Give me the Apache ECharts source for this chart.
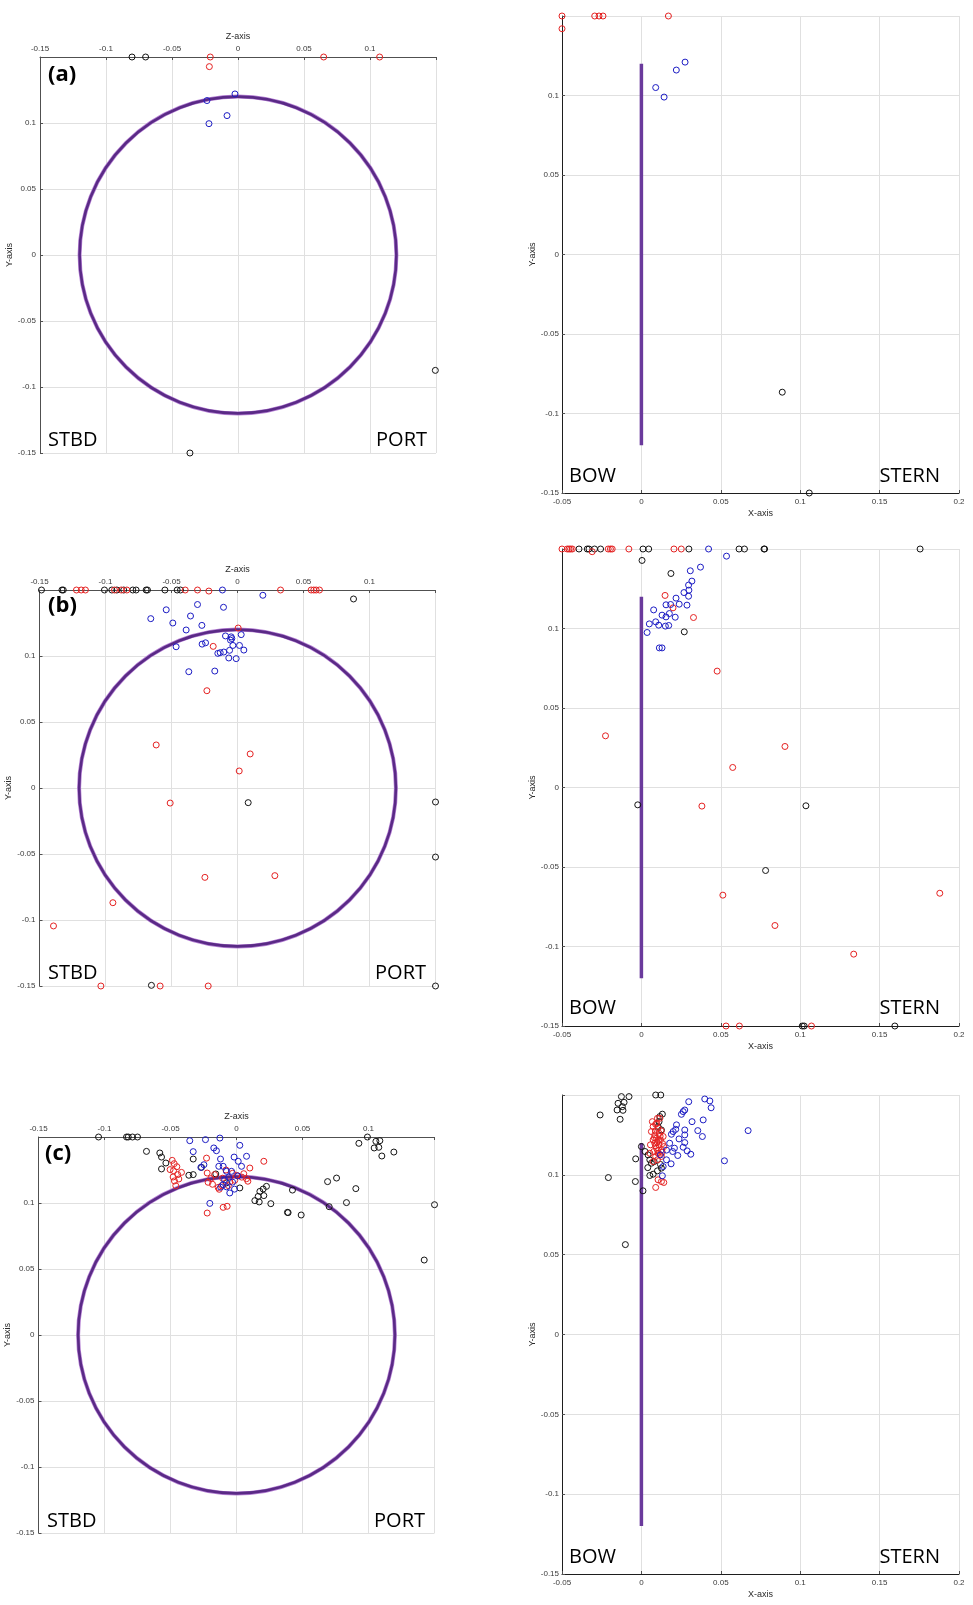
<!DOCTYPE html>
<html><head><meta charset="utf-8">
<script src="https://cdn.jsdelivr.net/npm/echarts@6.0.0/dist/echarts.min.js"></script>
<style>html,body{margin:0;padding:0;background:#fff}#c{width:973px;height:1605px}</style>
</head><body><div id="c"></div>
<script>
// ---------- tick labels ----------
const zTickLabels = [-0.15, -0.1, -0.05, 0, 0.05, 0.1];
const yTickLabels = [-0.15, -0.1, -0.05, 0, 0.05, 0.1];
const xTickLabels = [-0.05, 0, 0.05, 0.1, 0.15, 0.2];

// ---------- reference geometry ----------
const hullCircle = [[0, 0, 0.12]];          // [z, y, radius]
const hullSide = [[0, -0.12], [0, 0.12]];   // [x, y]

// ---------- panel (a) ----------
const aZYBlack = [[-0.0803,0.15],[-0.070,0.15],[-0.0364,-0.15],[0.1495,-0.0874]];
const aZYRed = [[-0.021,0.15],[-0.0217,0.1427],[0.0649,0.15],[0.1073,0.15]];
const aZYBlue = [[-0.0023,0.122],[-0.0235,0.117],[-0.0083,0.1056],[-0.022,0.0995]];

const aXYBlack = [[0.0887,-0.0866],[0.1057,-0.15]];
const aXYRed = [[-0.05,0.15],[-0.05,0.142],[-0.0294,0.15],[-0.0267,0.15],[-0.0242,0.15],[0.017,0.15]];
const aXYBlue = [[0.0275,0.121],[0.022,0.116],[0.009,0.105],[0.0143,0.099]];

// ---------- panel (b) ----------
const bZYBlack = [[-0.1485,0.15],[-0.133,0.15],[-0.132,0.15],[-0.1008,0.15],[-0.0952,0.15],[-0.0914,0.15],
  [-0.0862,0.15],[-0.0793,0.15],[-0.0768,0.15],[-0.0692,0.15],[-0.0682,0.15],[-0.055,0.15],[-0.0457,0.15],
  [-0.0432,0.15],[0.0879,0.1432],[0.0081,-0.0111],[0.15,-0.0106],[0.15,-0.0523],[-0.0652,-0.1495],[0.15,-0.15]];
const bZYRed = [[-0.122,0.15],[-0.1184,0.15],[-0.1152,0.15],[-0.0932,0.15],[-0.0881,0.15],[-0.0838,0.15],
  [-0.0396,0.15],[-0.0303,0.15],[0.0326,0.15],[0.0558,0.15],[0.0578,0.15],[0.0596,0.15],[0.0621,0.15],
  [-0.0217,0.1492],[0.0005,0.1212],[-0.0184,0.1073],[-0.0232,0.0737],[-0.0616,0.0326],[0.0096,0.0258],
  [0.0013,0.0129],[-0.051,-0.0114],[-0.0247,-0.0677],[0.0283,-0.0664],[-0.0944,-0.0869],[-0.1394,-0.1045],
  [-0.1035,-0.15],[-0.0586,-0.15],[-0.0222,-0.15]];
const bZYBlue = [[-0.0114,0.15],[0.0192,0.146],[-0.0303,0.139],[-0.0106,0.1369],[-0.054,0.135],[-0.0356,0.1303],
  [-0.0657,0.1283],[-0.049,0.125],[-0.027,0.1232],[-0.0389,0.1197],[0.0028,0.1162],[-0.0091,0.1152],
  [-0.0048,0.1145],[-0.0043,0.1132],[-0.0053,0.112],[-0.0268,0.109],[-0.0242,0.110],[-0.0465,0.107],
  [-0.0035,0.108],[0.0015,0.108],[-0.006,0.1043],[0.0048,0.1045],[-0.0104,0.103],[-0.0149,0.102],
  [-0.0131,0.1025],[-0.0066,0.0985],[-0.001,0.098],[-0.0369,0.0881],[-0.0172,0.0886]];

const bXYBlack = [[-0.0393,0.15],[-0.0341,0.15],[-0.033,0.15],[-0.0295,0.15],[-0.0257,0.15],[0.001,0.15],
  [0.0046,0.15],[0.0299,0.15],[0.0615,0.15],[0.0649,0.15],[0.0772,0.15],[0.0776,0.15],[0.1755,0.15],
  [0.0004,0.1428],[0.0186,0.1346],[0.027,0.0979],[-0.0023,-0.0109],[0.1036,-0.0115],[0.0782,-0.0522],
  [0.1013,-0.15],[0.1025,-0.15],[0.1596,-0.15]];
const bXYRed = [[-0.05,0.15],[-0.0467,0.15],[-0.0456,0.15],[-0.0446,0.15],[-0.0435,0.15],[-0.031,0.1483],
  [-0.0209,0.15],[-0.0195,0.15],[-0.0184,0.15],[-0.0079,0.15],[0.0205,0.15],[0.0251,0.15],
  [0.0149,0.1208],[0.0199,0.113],[0.0328,0.1069],[0.0477,0.0732],[-0.0226,0.0325],[0.0904,0.0258],
  [0.0575,0.0126],[0.0381,-0.0117],[0.0513,-0.0677],[0.1879,-0.0665],[0.0841,-0.0868],[0.1337,-0.1048],
  [0.0533,-0.15],[0.0617,-0.15],[0.1071,-0.15]];
const bXYBlue = [[0.0423,0.15],[0.0536,0.1455],[0.0372,0.1386],[0.0308,0.1363],[0.0318,0.1298],[0.0297,0.1273],
  [0.0299,0.1241],[0.0268,0.1226],[0.0297,0.1203],[0.0218,0.1191],[0.0238,0.1153],[0.0155,0.1149],
  [0.0184,0.1151],[0.0287,0.1147],[0.0077,0.1117],[0.0176,0.1094],[0.013,0.1084],[0.0155,0.1073],
  [0.0213,0.1071],[0.009,0.1042],[0.005,0.1029],[0.0109,0.1021],[0.0172,0.1019],[0.0151,0.1015],
  [0.0036,0.0975],[0.0113,0.0878],[0.013,0.0878]];

// ---------- panel (c) ----------
const cZYBlack = [[-0.1045,0.15],[-0.0833,0.15],[-0.082,0.15],[-0.0788,0.15],[-0.075,0.15],
  [-0.0682,0.1391],[-0.0581,0.1379],[-0.0568,0.1348],[-0.0535,0.1303],[-0.0568,0.1258],
  [-0.0361,0.121],[-0.0328,0.1215],[-0.0328,0.1333],[-0.0265,0.127],[-0.0157,0.122],[-0.0076,0.1152],
  [0.0025,0.1114],[0.0227,0.1126],[0.0202,0.1106],[0.0177,0.1088],[0.0164,0.105],[0.0207,0.1056],
  [0.0139,0.1018],[0.0172,0.1008],[0.026,0.0995],[0.0386,0.0929],
  [0.0992,0.15],[0.0927,0.1452],[0.1056,0.1467],[0.1086,0.1472],[0.1043,0.1417],[0.1078,0.1422],
  [0.1101,0.1356],[0.1192,0.1386],[0.0758,0.1189],[0.069,0.1162],[0.0424,0.1098],[0.0904,0.1109],
  [0.0833,0.1003],[0.0702,0.0972],[0.0391,0.0927],[0.049,0.0909],[0.15,0.0987],[0.1422,0.0568]];
const cZYRed = [[-0.0487,0.1323],[-0.0472,0.1298],[-0.0503,0.1253],[-0.0477,0.1245],[-0.0417,0.1232],
  [-0.048,0.1197],[-0.0437,0.1182],[-0.047,0.1167],[-0.046,0.1131],[-0.0227,0.134],[-0.0222,0.1227],
  [-0.0166,0.1215],[-0.0215,0.1157],[-0.0182,0.1142],[-0.0139,0.1118],[-0.0113,0.1131],[-0.0131,0.1104],
  [-0.005,0.116],[-0.0013,0.1172],[0.0002,0.1209],[0.004,0.1196],[0.0076,0.1184],[0.0101,0.1265],
  [0.0207,0.1316],[-0.0222,0.0924],[-0.0101,0.0967],[-0.0071,0.0975],[0.0086,0.1165],[-0.003,0.1225],
  [-0.008,0.125],[-0.0445,0.1215],[-0.0452,0.1275],[-0.0105,0.1188],[-0.0062,0.1132],[0.0055,0.1222],
  [-0.0195,0.1185]];
const cZYBlue = [[-0.0354,0.1472],[-0.0235,0.148],[-0.0126,0.1492],[0.0025,0.1437],[-0.0172,0.1417],
  [-0.0152,0.1396],[-0.0328,0.1389],[-0.0121,0.1333],[-0.0018,0.1348],[0.0013,0.1316],[0.0076,0.1354],
  [0.0038,0.1278],[-0.0134,0.1278],[-0.0101,0.1278],[-0.0076,0.124],[-0.0038,0.124],[-0.0101,0.1139],
  [-0.0202,0.0997],[-0.0051,0.1076],[-0.027,0.127],[-0.0247,0.129],[-0.006,0.1195],[-0.009,0.1175],
  [-0.012,0.112],[-0.003,0.1158],[0.001,0.1205],[-0.0015,0.1105],[-0.0075,0.1122]];

const cXYBlack = [[0.009,0.15],[0.0122,0.15],[-0.0126,0.149],[-0.0078,0.149],[-0.0147,0.1448],[-0.0109,0.1454],
  [-0.012,0.1427],[-0.0153,0.1406],[-0.0116,0.1404],[-0.026,0.1375],[-0.0134,0.1348],[-0.0208,0.0983],
  [-0.0101,0.0563],[-0.0036,0.11],[-0.0038,0.0958],[0.001,0.09],[0,0.1177],[0.0023,0.1146],[0.0042,0.1125],
  [0.0053,0.1094],[0.0063,0.1073],[0.0053,0.0996],[0.0074,0.1004],[0.0101,0.1025],[0.0126,0.1042],
  [0.0116,0.1365],[0.0132,0.138],[0.0111,0.1333],[0.0105,0.1302],[0.0126,0.1281],[0.008,0.1083],
  [0.004,0.1045],[0.012,0.1065]];
const cXYRed = [[0.0074,0.1302],[0.009,0.1317],[0.0105,0.1292],[0.0063,0.1271],[0.0084,0.125],[0.0111,0.126],
  [0.0095,0.1229],[0.0074,0.1219],[0.012,0.1219],[0.0084,0.1198],[0.0111,0.1188],[0.0095,0.1167],
  [0.0078,0.1146],[0.0126,0.1156],[0.0105,0.1135],[0.009,0.1115],[0.0126,0.1115],[0.0101,0.1094],
  [0.0074,0.1083],[0.0116,0.1354],[0.0101,0.1354],[0.0069,0.1333],[0.0137,0.124],[0.0141,0.1177],
  [0.0057,0.1188],[0.009,0.0921],[0.0126,0.0958],[0.0141,0.0952],[0.0105,0.0969],[0.0053,0.1135],
  [0.0098,0.1205],[0.0118,0.1242],[0.0088,0.1275],[0.0133,0.1196],[0.0102,0.1152],[0.0115,0.1128],
  [0.0082,0.1232],[0.0125,0.1275],[0.0096,0.1322],[0.0108,0.1215],[0.0089,0.1182],[0.0131,0.1142]];
const cXYBlue = [[0.0298,0.1458],[0.0399,0.1475],[0.0431,0.1463],[0.0439,0.142],[0.0273,0.1406],[0.0263,0.1396],
  [0.0252,0.1379],[0.0319,0.1333],[0.0389,0.1344],[0.0355,0.1277],[0.0384,0.124],[0.0273,0.1281],
  [0.0273,0.125],[0.0221,0.1313],[0.0216,0.1285],[0.02,0.1271],[0.0189,0.1254],[0.0237,0.1225],
  [0.0273,0.1202],[0.0263,0.1173],[0.0288,0.115],[0.0311,0.1129],[0.0208,0.1167],[0.0197,0.1146],
  [0.0229,0.1121],[0.0187,0.1069],[0.0672,0.1277],[0.0523,0.1088],[0.0137,0.1052],[0.0132,0.0994],
  [0.0158,0.1094],[0.012,0.1125],[0.0178,0.1198],[0.0158,0.1155]];

// ---------- layout / styles ----------
const COL = {black:'#141414', red:'#e52222', blue:'#1c1cc4', hull:'#5a2a86', side:'#6a3a9c'};
const grids = [
  {left:40, top:57, width:396, height:396},
  {left:562, top:16, width:397, height:477},
  {left:39.5, top:590, width:396, height:396},
  {left:562, top:549, width:397, height:477},
  {left:38.5, top:1137, width:396, height:396},
  {left:562, top:1095, width:397, height:479}
];
const fmt = list => v => list.some(t => Math.abs(t - v) < 1e-6) ? String(Math.round(v * 100) / 100) : '';
const labelStyle = {fontFamily:'"Liberation Sans", Arial, sans-serif', fontSize:8, color:'#3a3a3a'};
const nameStyle = {fontFamily:'"Liberation Sans", Arial, sans-serif', fontSize:9, color:'#2a2a2a'};
const split = {show:true, lineStyle:{color:'#e0e0e0', width:1}};

const xAxes = [], yAxes = [];
grids.forEach((g, i) => {
  const isSide = i % 2 === 1;
  xAxes.push({
    type:'value', gridIndex:i,
    min: isSide ? -0.05 : -0.15, max: isSide ? 0.2 : 0.15, interval:0.05,
    position: isSide ? 'bottom' : 'top',
    name: isSide ? 'X-axis' : 'Z-axis', nameLocation:'middle', nameGap:16, nameTextStyle:nameStyle,
    axisLine:{show:true, onZero:false, lineStyle:{color: isSide ? '#1e1e1e' : '#505050', width:1}},
    axisTick:{show:true, inside:true, length:3, lineStyle:{color:'#505050'}},
    axisLabel:Object.assign({margin: isSide ? 5 : 4, showMinLabel:true, showMaxLabel:true,
      formatter: fmt(isSide ? xTickLabels : zTickLabels)}, labelStyle),
    splitLine:split
  });
  yAxes.push({
    type:'value', gridIndex:i, min:-0.15, max:0.15, interval:0.05,
    name:'Y-axis', nameLocation:'middle', nameGap:24, nameTextStyle:nameStyle,
    axisLine:{show:true, onZero:false, lineStyle:{color: isSide ? '#1e1e1e' : '#505050', width:1}},
    axisTick:{show:true, inside:true, length:3, lineStyle:{color:'#505050'}},
    axisLabel:Object.assign({margin: isSide ? 3 : 4, showMinLabel:true, showMaxLabel:true,
      formatter: fmt(yTickLabels)}, labelStyle),
    splitLine:split
  });
});

const series = [];
function hull(i) {
  series.push({
    type:'custom', xAxisIndex:i, yAxisIndex:i, data:hullCircle, z:1, silent:true,
    renderItem:(params, api) => {
      const c = api.coord([api.value(0), api.value(1)]);
      const r = api.size([api.value(2), 0])[0];
      return {type:'group', children:[
        {type:'circle', shape:{cx:c[0], cy:c[1], r:r}, style:{fill:'none', stroke:'#b580d4', lineWidth:4}},
        {type:'circle', shape:{cx:c[0], cy:c[1], r:r}, style:{fill:'none', stroke:COL.hull, lineWidth:2.6}}
      ]};
    }
  });
}
function side(i) {
  series.push({type:'line', xAxisIndex:i, yAxisIndex:i, data:hullSide, symbol:'none', z:1, silent:true,
    lineStyle:{color:COL.side, width:3.5}});
}
function pts(i, data, color) {
  series.push({type:'scatter', xAxisIndex:i, yAxisIndex:i, data:data, symbol:'circle', symbolSize:6,
    clip:false, z:3, silent:true,
    itemStyle:{color:'rgba(0,0,0,0)', borderColor:color, borderWidth:1, opacity:1}});
}
hull(0); side(1); hull(2); side(3); hull(4); side(5);
[[0,aZYBlack,aZYRed,aZYBlue],[1,aXYBlack,aXYRed,aXYBlue],[2,bZYBlack,bZYRed,bZYBlue],
 [3,bXYBlack,bXYRed,bXYBlue],[4,cZYBlack,cZYRed,cZYBlue],[5,cXYBlack,cXYRed,cXYBlue]].forEach(p => {
  pts(p[0], p[1], COL.black); pts(p[0], p[2], COL.red); pts(p[0], p[3], COL.blue);
});

const bigFont = '20px "Open Sans", "Noto Sans", sans-serif';
const tagFont = 'bold 22px "Open Sans", "Noto Sans", sans-serif';
function txt(text, x, y, align, font) {
  return {type:'text', x:x, y:y, z:10, silent:true,
    style:{text:text, font:font || bigFont, fill:'#000', align:align, verticalAlign:'middle'}};
}
const graphic = [
  txt('(a)', 48, 75, 'left', tagFont), txt('(b)', 48, 606, 'left', tagFont), txt('(c)', 45, 1154, 'left', tagFont),
  txt('STBD', 48, 440, 'left'), txt('PORT', 427, 440, 'right'),
  txt('BOW', 569, 476, 'left'), txt('STERN', 940, 476, 'right'),
  txt('STBD', 48, 973, 'left'), txt('PORT', 426, 973, 'right'),
  txt('BOW', 569, 1008, 'left'), txt('STERN', 940, 1008, 'right'),
  txt('STBD', 47, 1521, 'left'), txt('PORT', 425, 1521, 'right'),
  txt('BOW', 569, 1557, 'left'), txt('STERN', 940, 1557, 'right')
];

const chart = echarts.init(document.getElementById('c'), null, {renderer:'canvas'});
chart.setOption({
  backgroundColor:'#fff', animation:false,
  grid: grids.map(g => Object.assign({containLabel:false, outerBoundsMode:'none'}, g)),
  xAxis:xAxes, yAxis:yAxes, series:series, graphic:graphic
});
</script></body></html>
